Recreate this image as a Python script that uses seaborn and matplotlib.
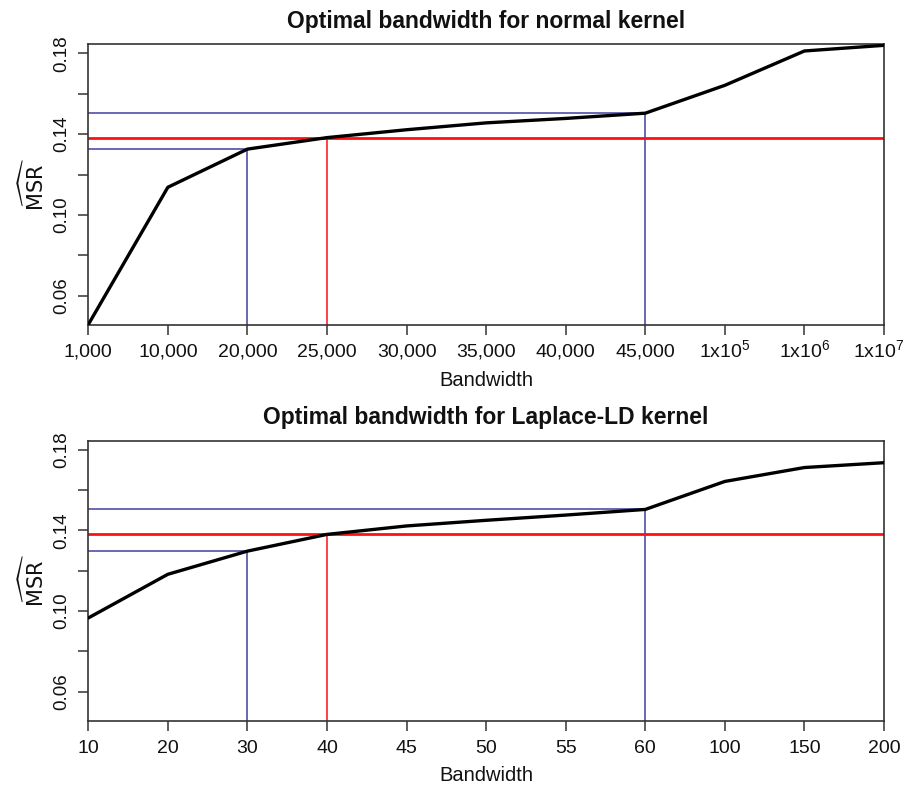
import numpy as np
import matplotlib
matplotlib.use("Agg")
import matplotlib.pyplot as plt
import seaborn as sns
from matplotlib.transforms import ScaledTranslation

# ---- data ----
labels_normal = ["1,000", "10,000", "20,000", "25,000", "30,000", "35,000",
                 "40,000", "45,000", r"1x10$^{5}$", r"1x10$^{6}$", r"1x10$^{7}$"]
msr_normal = [0.0457, 0.1137, 0.1326, 0.1383, 0.1422, 0.1456, 0.1478, 0.1504,
              0.1642, 0.1812, 0.1840]

labels_laplace = ["10", "20", "30", "40", "45", "50", "55", "60", "100", "150", "200"]
msr_laplace = [0.0965, 0.1182, 0.1297, 0.1380, 0.1422, 0.1450, 0.1476, 0.1504,
               0.1643, 0.1712, 0.1736]

# indices of reference bandwidths: (lower blue, optimum red, upper blue)
ref_normal = (2, 3, 7)
ref_laplace = (2, 3, 7)
y_ticks = [0.06, 0.08, 0.10, 0.12, 0.14, 0.16, 0.18]
y_tick_labels = ["0.06", "", "0.10", "", "0.14", "", "0.18"]

titles = ["Optimal bandwidth for normal kernel", "Optimal bandwidth for Laplace-LD kernel"]

sns.set_theme(style="ticks")
NARROW = ["Liberation Sans Narrow", "Liberation Sans", "DejaVu Sans"]
plt.rcParams["font.family"] = ["Liberation Sans", "DejaVu Sans"]
plt.rcParams["mathtext.fontset"] = "custom"
plt.rcParams["mathtext.rm"] = "Liberation Sans Narrow"
plt.rcParams["mathtext.it"] = "Liberation Sans Narrow"
plt.rcParams["mathtext.default"] = "regular"

fig = plt.figure(figsize=(9.08, 7.97), dpi=100)
ax1 = fig.add_axes([0.0972, 0.5922, 0.8764, 0.3522])
ax2 = fig.add_axes([0.0972, 0.0957, 0.8764, 0.3513])

BLUE = "#4040a0"
RED = "#ff1010"

for ax, labels, msr, ref, title in [(ax1, labels_normal, msr_normal, ref_normal, titles[0]),
                                     (ax2, labels_laplace, msr_laplace, ref_laplace, titles[1])]:
    pos = np.arange(len(labels))
    ymin, ymax = 0.0455, 0.1845
    lo, opt, hi = ref
    # blue guide lines
    for i in (lo, hi):
        ax.hlines(msr[i], 0, pos[i], color=BLUE, linewidth=1.1, zorder=2)
        ax.vlines(pos[i], ymin, msr[i], color=BLUE, linewidth=1.1, zorder=2)
    # red optimum lines
    ax.axhline(msr[opt], color=RED, linewidth=2.0, zorder=2)
    ax.vlines(pos[opt], ymin, msr[opt], color=RED, linewidth=1.1, zorder=2)
    sns.lineplot(x=pos, y=msr, ax=ax, color="black", linewidth=2.4, zorder=3)

    ax.set_xlim(0, len(labels) - 1)
    ax.set_ylim(ymin, ymax)
    ax.set_xticks(pos)
    ax.set_xticklabels(labels, fontsize=14, family=NARROW, va="baseline")
    ax.set_yticks(y_ticks)
    ax.set_yticklabels(y_tick_labels, fontsize=13.5, rotation=90, va="center")
    ax.tick_params(axis="both", direction="out", length=7, width=1.1, color="#333333",
                   labelcolor="#111111")
    ax.tick_params(axis="x", pad=16)
    ax.tick_params(axis="y", pad=6)
    for s in ax.spines.values():
        s.set_visible(True)
        s.set_color("#333333")
        s.set_linewidth(1.2)
    ax.set_xlabel("Bandwidth", fontsize=14.5, labelpad=7, color="#111111", family=NARROW)
    ax.set_ylabel(r"$\widehat{\mathrm{MSR}}$", fontsize=15, labelpad=4, color="#111111",
                  family=["Liberation Sans"])
    ax.set_title(title, fontsize=16.5, fontweight="bold", pad=12, color="#111111")

# keep the last superscripted label inside the canvas
last = ax1.get_xticklabels()[-1]
last.set_horizontalalignment("right")
last.set_transform(last.get_transform() + ScaledTranslation(0.2, 0, fig.dpi_scale_trans))

fig.savefig("out.png", dpi=100)
